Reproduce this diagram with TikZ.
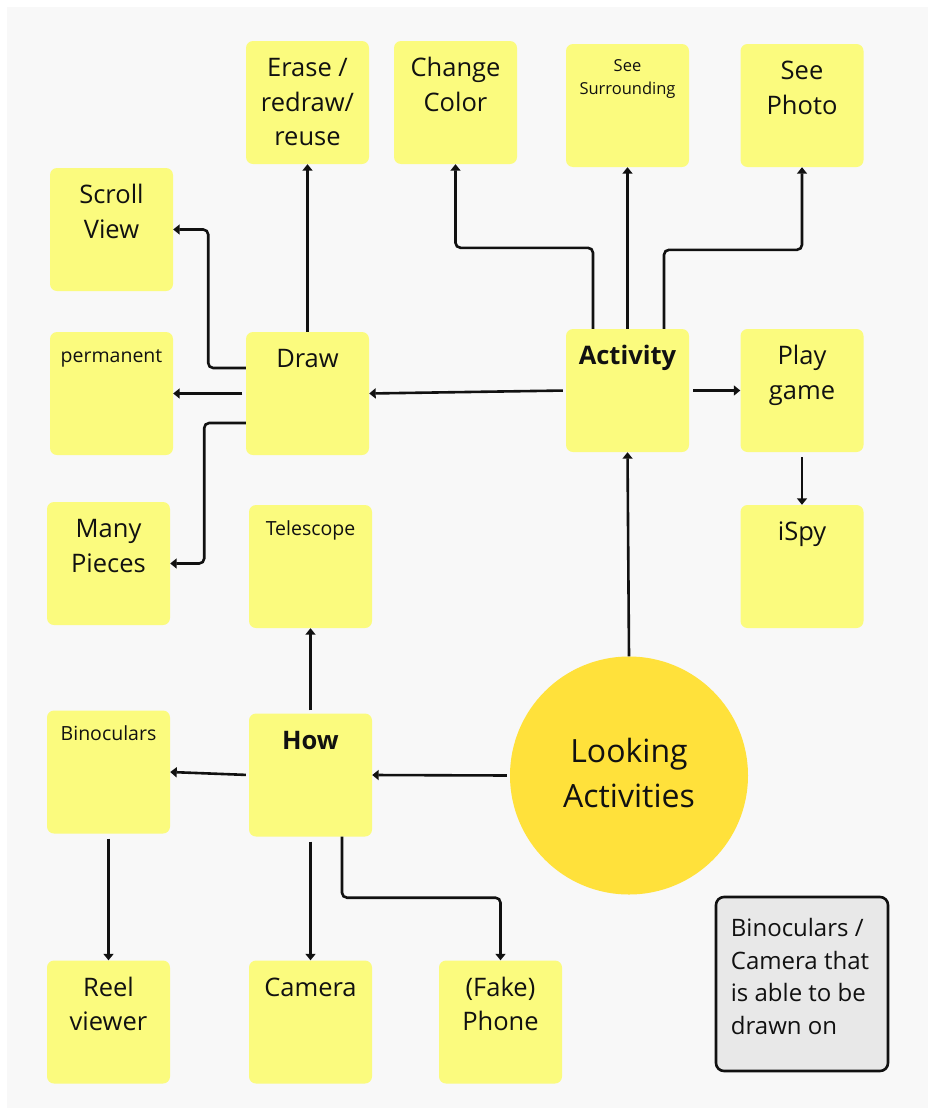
\documentclass[tikz,border=0pt]{standalone}
\usepackage{fontspec}
\setmainfont{Open Sans}
\usetikzlibrary{arrows.meta,calc}
\definecolor{sticky}{RGB}{251,251,126}
\definecolor{sun}{RGB}{255,225,59}
\definecolor{panel}{RGB}{248,248,248}
\definecolor{notefill}{RGB}{232,232,232}
\definecolor{ink}{RGB}{17,17,17}
\tikzset{
  box/.style={fill=sticky, rounded corners=7pt, minimum width=123pt, minimum height=123pt, inner sep=0pt},
  big/.style={anchor=north, inner sep=0pt, yshift=-11.35pt, align=center, text=ink, font=\fontsize{25.5}{34.5}\selectfont},
  small/.style={anchor=north, inner sep=0pt, yshift=-13.9pt, align=center, text=ink, font=\fontsize{19.5}{23}\selectfont},
  tiny/.style={anchor=north, inner sep=0pt, yshift=-10.9pt, align=center, text=ink, font=\fontsize{16.5}{23}\selectfont},
  arr/.style={draw=ink, line width=2.6pt, -{Triangle[length=6.5pt,width=10pt]}},
}
\begin{document}
\begin{tikzpicture}[x=1pt,y=-1pt]
\useasboundingbox (0,0) rectangle (928,1111);
\fill[white] (0,0) rectangle (928,1111);
\fill[panel] (7,7) rectangle (928,1108);

% boxes
\node[box, label={[big]north:\strut Scroll\\View}] (scroll) at (111.5,229.5) {};
\node[box, label={[big]north:\strut Erase /\\redraw/\\reuse}] (erase) at (307.5,102.5) {};
\node[box, label={[big]north:\strut Change\\Color}] (change) at (455.5,102.5) {};
\node[box, label={[tiny]north:\strut See\\Surrounding}] (surr) at (627.5,105.5) {};
\node[box, label={[big]north:\strut See\\Photo}] (photo) at (802,105.5) {};
\node[box, label={[small]north:\strut permanent}] (perm) at (111.5,393.5) {};
\node[box, label={[big]north:\strut Draw}] (draw) at (307.5,393.5) {};
\node[box, label={[big]north:\strut\textbf{Activity}}] (act) at (627.5,390.5) {};
\node[box, label={[big]north:\strut Play\\game}] (play) at (802,390.5) {};
\node[box, label={[big]north:\strut Many\\Pieces}] (many) at (108.5,563.5) {};
\node[box, label={[small]north:\strut Telescope}] (tele) at (310.5,566.5) {};
\node[box, label={[big]north:\strut iSpy}] (ispy) at (802,566.5) {};
\node[box, label={[small]north:\strut Binoculars}] (bino) at (108.5,772) {};
\node[box, label={[big]north:\strut\textbf{How}}] (how) at (310.5,775) {};
\node[box, label={[big]north:\strut Reel\\viewer}] (reel) at (108.5,1022) {};
\node[box, label={[big]north:\strut Camera}] (cam) at (310.5,1022) {};
\node[box, label={[big]north:\strut (Fake)\\Phone}] (phone) at (500.5,1022) {};

\node[circle, fill=sun, minimum size=238pt, inner sep=0pt, align=center, text=ink,
      font=\fontsize{32}{45}\selectfont] (look) at (629,775.5) {\strut Looking\\\strut Activities};

\node[draw=ink, line width=2.6pt, fill=notefill, rounded corners=8pt, minimum width=172pt, minimum height=174pt, inner sep=0pt,
      label={[anchor=north west, inner sep=0pt, xshift=16pt, yshift=-18.25pt, align=left, text=ink,
              font=\fontsize{24}{32.5}\selectfont]north west:\strut Binoculars /\\Camera that\\is able to be\\drawn on}] (note) at (802,984) {};

% connectors
\draw[arr] (draw.north) -- (erase.south);
\draw[arr, rounded corners=5pt] ([yshift=25.5pt]draw.west) -| ([xshift=35pt]scroll.east) -- (scroll.east);
\draw[arr, shorten <=3.5pt] (draw.west) -- (perm.east);
\draw[arr, rounded corners=5pt] ([yshift=-29.5pt]draw.west) -| ([xshift=34pt]many.east) -- (many.east);
\draw[arr, shorten <=3pt] (act.west) -- (draw.east);
\draw[arr, rounded corners=5pt] ([xshift=-34.5pt]act.north) -- ++(0,-81) -| (change.south);
\draw[arr] (act.north) -- (surr.south);
\draw[arr, rounded corners=5pt] ([xshift=36.5pt]act.north) -- ++(0,-79) -| (photo.south);
\draw[arr, shorten <=4pt] (act.east) -- (play.west);
\draw[arr, shorten <=5pt] (play.south) -- (ispy.north);
\draw[arr] (look.north) -- (act.south);
\draw[arr, shorten <=3pt] (look.west) -- (how.east);
\draw[arr, shorten <=3pt] (how.north) -- (tele.south);
\draw[arr, shorten <=3pt] (how.west) -- (bino.east);
\draw[arr, shorten <=5pt] (bino.south) -- (reel.north);
\draw[arr, shorten <=5pt] (how.south) -- (cam.north);
\draw[arr, rounded corners=5pt] ([xshift=31.5pt]how.south) -- ++(0,61) -| (phone.north);
\end{tikzpicture}
\end{document}
